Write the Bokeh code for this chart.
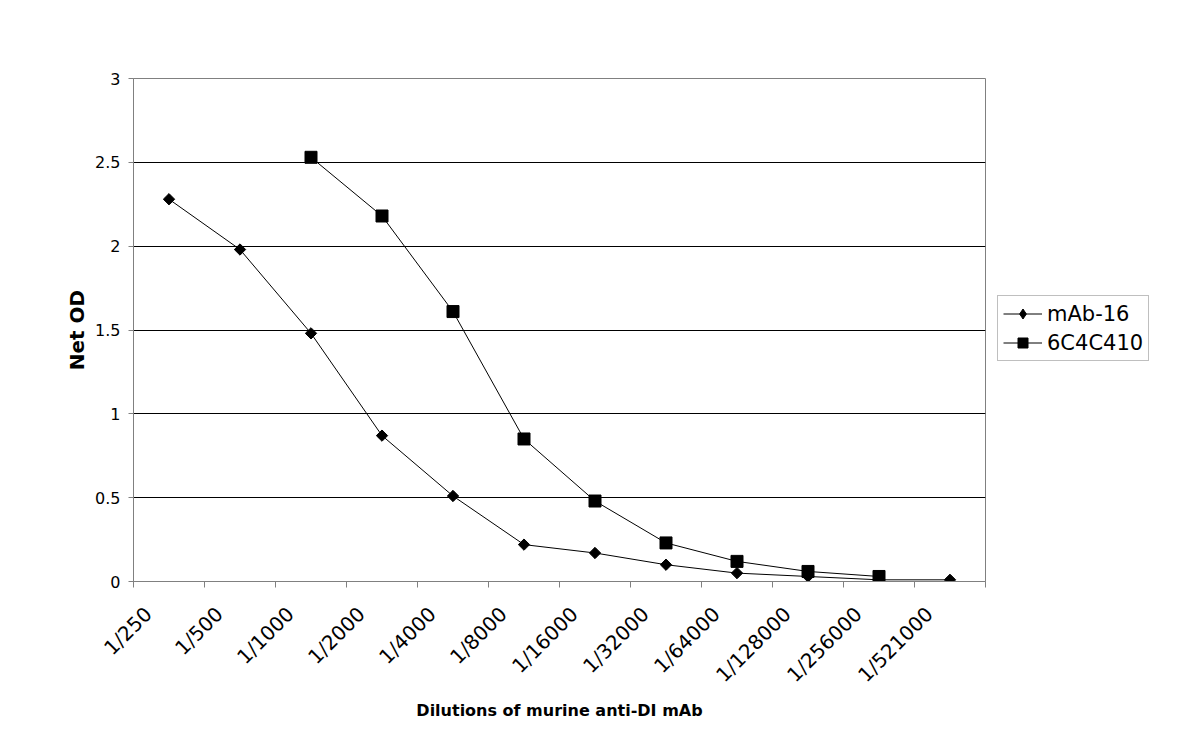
import math
from bokeh.plotting import figure
from bokeh.layouts import row
from bokeh.models import (ColumnDataSource, FixedTicker, Range1d, Legend, LegendItem)
from bokeh.embed import file_html
from bokeh.resources import INLINE

dilutions = ["1/250", "1/500", "1/1000", "1/2000", "1/4000", "1/8000", "1/16000",
             "1/32000", "1/64000", "1/128000", "1/256000", "1/521000"]
mab16 = [2.28, 1.98, 1.48, 0.87, 0.51, 0.22, 0.17, 0.10, 0.05, 0.03, 0.01, 0.01]
c6c4c410_dil = ["1/1000", "1/2000", "1/4000", "1/8000", "1/16000", "1/32000",
                "1/64000", "1/128000", "1/256000"]
c6c4c410 = [2.53, 2.18, 1.61, 0.85, 0.48, 0.23, 0.12, 0.06, 0.03]
y_ticks = [0, 0.5, 1, 1.5, 2, 2.5, 3]
y_labels = ["0", "0.5", "1", "1.5", "2", "2.5", "3"]

FONT = "DejaVu Sans"
LABEL_SHIFT = 0.29  # rotated labels end just left of the category centre
idx = {d: i for i, d in enumerate(dilutions)}

src1 = ColumnDataSource(dict(x=[idx[d] for d in dilutions], y=mab16))
src2 = ColumnDataSource(dict(x=[idx[d] for d in c6c4c410_dil], y=c6c4c410))

p = figure(width=986, height=737, output_backend="svg", toolbar_location=None,
           x_range=Range1d(-0.5, len(dilutions) - 0.5), y_range=Range1d(0, 3),
           min_border_left=133, min_border_right=1, min_border_top=78,
           min_border_bottom=156)
p.background_fill_color = "white"
p.border_fill_color = "white"
p.outline_line_color = "#808080"

p.line("x", "y", source=src1, line_color="black", line_width=1)
p.scatter("x", "y", source=src1, marker="square", size=8, angle=math.pi / 4,
          fill_color="black", line_color="black")
p.line("x", "y", source=src2, line_color="black", line_width=1)
p.scatter("x", "y", source=src2, marker="square", size=12,
          fill_color="black", line_color="black")

# x axis: labels near category centres, tick marks at boundaries
tick_pos = [round(i - LABEL_SHIFT, 4) for i in range(len(dilutions))]
xa = p.xaxis[0]
xa.ticker = FixedTicker(ticks=tick_pos,
                        minor_ticks=[i - 0.5 for i in range(len(dilutions) + 1)])
xa.major_label_overrides = {t: d for t, d in zip(tick_pos, dilutions)}
xa.major_label_orientation = math.pi / 4
xa.major_tick_out = 0
xa.major_tick_in = 0
xa.minor_tick_out = 6
xa.minor_tick_in = 0
xa.minor_tick_line_color = "#808080"
xa.axis_line_color = "#808080"
xa.major_label_text_font = FONT
xa.major_label_text_font_size = "20px"
xa.major_label_text_color = "black"
xa.major_label_standoff = 23
xa.axis_label = "Dilutions of murine anti-DI mAb"
xa.axis_label_text_font = FONT
xa.axis_label_text_font_size = "16px"
xa.axis_label_text_font_style = "bold"
xa.axis_label_text_color = "black"
xa.axis_label_standoff = 3

ya = p.yaxis[0]
ya.ticker = FixedTicker(ticks=y_ticks, minor_ticks=[])
ya.major_label_overrides = {t: s for t, s in zip(y_ticks, y_labels)}
ya.major_tick_out = 5
ya.major_tick_in = 0
ya.major_tick_line_color = "#808080"
ya.axis_line_color = "#808080"
ya.major_label_text_font = FONT
ya.major_label_text_font_size = "16px"
ya.major_label_text_color = "black"
ya.major_label_standoff = 8
ya.axis_label = "Net OD"
ya.axis_label_text_font = FONT
ya.axis_label_text_font_size = "20px"
ya.axis_label_text_font_style = "bold"
ya.axis_label_text_color = "black"
ya.axis_label_standoff = 3

p.xgrid.grid_line_color = None
p.ygrid.grid_line_color = "black"
p.ygrid.grid_line_alpha = 1
p.ygrid.ticker = FixedTicker(ticks=y_ticks)

# legend panel to the right of the plot area
q = figure(width=198, height=737, output_backend="svg", toolbar_location=None,
           x_axis_type=None, y_axis_type=None, min_border=0,
           x_range=Range1d(0, 1), y_range=Range1d(0, 1))
q.outline_line_color = None
q.background_fill_color = "white"
q.border_fill_color = "white"
q.xgrid.visible = False
q.ygrid.visible = False
ql1 = q.line("x", "y", source=src1, line_color="black", line_width=1, visible=False)
qm1 = q.scatter("x", "y", source=src1, marker="diamond", size=12,
                fill_color="black", line_color="black", visible=False)
ql2 = q.line("x", "y", source=src2, line_color="black", line_width=1, visible=False)
qm2 = q.scatter("x", "y", source=src2, marker="square", size=12,
                fill_color="black", line_color="black", visible=False)

legend = Legend(items=[LegendItem(label="mAb-16", renderers=[ql1, qm1]),
                       LegendItem(label="6C4C410", renderers=[ql2, qm2])],
                location=(11, 220))
legend.label_text_font = FONT
legend.label_text_font_size = "21px"
legend.label_text_color = "black"
legend.border_line_color = "#808080"
legend.border_line_width = 1
legend.glyph_width = 39
legend.glyph_height = 25
legend.spacing = 4
legend.padding = 5
legend.margin = 0
legend.label_standoff = 5
legend.background_fill_color = "white"
legend.inactive_fill_alpha = 0
q.add_layout(legend, "center")

layout = row(p, q)
open("out.html", "w").write(file_html(layout, INLINE))
